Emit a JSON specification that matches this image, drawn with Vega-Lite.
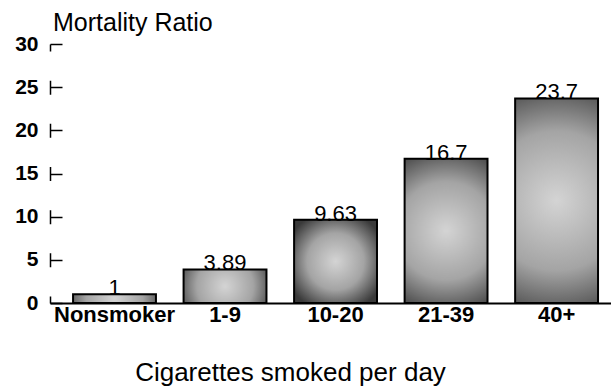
{
  "$schema": "https://vega.github.io/schema/vega-lite/v6.json",
  "width": 561,
  "height": 259,
  "autosize": {"type": "none"},
  "padding": {"left": 50, "top": 44, "right": 0, "bottom": 83},
  "background": "white",
  "view": {"stroke": null},
  "title": {
    "text": "Mortality Ratio",
    "anchor": "start",
    "frame": "group",
    "orient": "top",
    "dx": 3,
    "offset": -3,
    "font": "Liberation Sans",
    "fontSize": 25,
    "fontWeight": "normal",
    "color": "black"
  },
  "data": {
    "values": [
      {"group": "Nonsmoker", "ratio": 1, "label": "1"},
      {"group": "1-9", "ratio": 3.89, "label": "3.89"},
      {"group": "10-20", "ratio": 9.63, "label": "9.63"},
      {"group": "21-39", "ratio": 16.7, "label": "16.7"},
      {"group": "40+", "ratio": 23.7, "label": "23.7"}
    ]
  },
  "encoding": {
    "x": {
      "field": "group",
      "type": "nominal",
      "sort": null,
      "scale": {"paddingInner": 0.25, "paddingOuter": 0.163, "align": 0.64},
      "axis": {
        "title": "Cigarettes smoked per day",
        "titleFont": "Liberation Sans",
        "titleFontSize": 26,
        "titleFontWeight": "normal",
        "titleColor": "black",
        "titleX": 240,
        "titleY": 77,
        "titleAlign": "center",
        "titleBaseline": "alphabetic",
        "labelAngle": 0,
        "labelFont": "Liberation Sans",
        "labelFontSize": 22,
        "labelFontWeight": "bold",
        "labelColor": "black",
        "labelPadding": 1,
        "ticks": false,
        "domainColor": "black",
        "domainWidth": 2
      }
    },
    "y": {
      "field": "ratio",
      "type": "quantitative",
      "scale": {"domain": [0, 30]},
      "axis": {
        "title": null,
        "values": [0, 5, 10, 15, 20, 25, 30],
        "grid": false,
        "domain": true,
        "domainColor": "black",
        "domainWidth": 1.5,
        "domainDash": [14, 29.17],
        "domainDashOffset": 7,
        "tickSize": -12,
        "tickColor": "black",
        "tickWidth": 1.5,
        "labelFont": "Liberation Sans",
        "labelFontSize": 21,
        "labelFontWeight": "bold",
        "labelColor": "black",
        "labelPadding": 24
      }
    }
  },
  "layer": [
    {
      "mark": {
        "type": "bar",
        "stroke": "black",
        "strokeWidth": 2,
        "color": {
          "gradient": "radial",
          "x1": 0.5, "y1": 0.5, "r1": 0,
          "x2": 0.5, "y2": 0.5, "r2": 0.62,
          "stops": [
            {"offset": 0, "color": "#d4d4d4"},
            {"offset": 0.55, "color": "#a4a4a4"},
            {"offset": 1, "color": "#3a3a3a"}
          ]
        }
      }
    },
    {
      "mark": {
        "type": "text",
        "baseline": "alphabetic",
        "dy": 1,
        "font": "Liberation Sans",
        "fontSize": 22,
        "color": "black"
      },
      "encoding": {"text": {"field": "label"}}
    }
  ]
}
